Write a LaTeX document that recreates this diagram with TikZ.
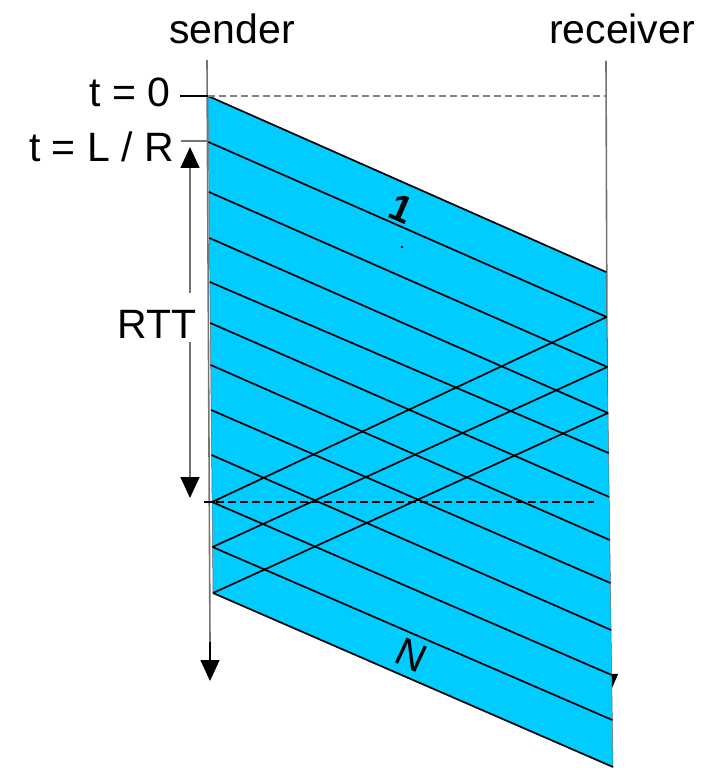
\documentclass[tikz,border=0pt]{standalone}
\usepackage{fontspec}
\setmainfont{Liberation Sans}
\usetikzlibrary{arrows.meta}
\definecolor{pktblue}{RGB}{0,204,255}
\begin{document}
\begin{tikzpicture}[x=1pt,y=-1pt,
  lbl/.style={font=\fontsize{41}{49}\selectfont, inner sep=0pt},
  vline/.style={draw=black!55, line width=1.6pt},
  pline/.style={draw=black, line width=1.7pt},
  band/.style={fill=pktblue, draw=black!60, line width=0.5pt},
  tip/.style={-{Triangle[length=21pt,width=19pt,color=black]}},
]
\useasboundingbox (0,0) rectangle (715,770);

% column labels
\node[lbl, anchor=base] (snd) at (232,44) {sender};
\node[lbl, anchor=base] (rcv) at (622,44) {receiver};

% packet boundary points at sender (L) and receiver (R)
\foreach \i/\yl/\yr in {1/96/272, 2/142/317, 3/192/367, 4/238/413, 5/282/453, 6/323/497,
                        7/365/540, 8/410/583, 9/455/630, 10/502/675, 11/547/720, 12/593/767}{
  \pgfmathsetmacro\xl{208+5*(\yl-96)/497}
  \pgfmathsetmacro\xr{606+7*(\yr-272)/495}
  \coordinate (L\i) at (\xl,\yl);
  \coordinate (R\i) at (\xr,\yr);
}

% time lines
\coordinate (sTop) at (207,60);
\coordinate (sMid) at (210,642);
\coordinate (sBot) at (210,681);
\coordinate (rTop) at (606,61);
\coordinate (rMid) at (608,650);
\coordinate (rBot) at (609,695);
\draw[vline] (sTop) -- (sMid);
\draw[draw=black, line width=1.6pt, tip] (sMid) -- (sBot);
\draw[vline] (rTop) -- (rMid);
\draw[draw=black, line width=1.6pt, tip] (rMid) -- (rBot);

% packets
\foreach \k [evaluate=\k as \n using int(\k+1)] in {1,...,11}{
  \filldraw[band] (L\k) -- (R\k) -- (R\n) -- (L\n) -- cycle;
}
\foreach \k in {1,...,12}{
  \draw[pline] (L\k) -- (R\k);
}

% acks
\draw[pline] (R2) -- (L10);
\draw[pline] (R3) -- (L11);
\draw[pline] (R4) -- (L12);

% dashed reference lines
\coordinate (r0) at (606,96);
\draw[draw=black!50, line width=1.5pt, dash pattern=on 7pt off 4pt] (L1) -- (r0);
\coordinate (d1) at (204,502);
\coordinate (d2) at (594,502);
\draw[draw=black, line width=1.6pt, dash pattern=on 8pt off 4pt] (d1) -- (d2);

% time labels and ticks
\node[lbl, anchor=base east] (t0) at (171,107) {t = 0};
\node[lbl, anchor=base east] (tlr) at (174,162) {t = L / R};
\coordinate (tk0) at (180,96);
\draw[draw=black, line width=1.6pt] (tk0) -- (L1);
\coordinate (tk1a) at (181,141);
\coordinate (tk1b) at (208,141);
\draw[vline] (tk1a) -- (tk1b);

% RTT
\node[lbl, anchor=base] (rtt) at (157,338) {RTT};
\coordinate (rttA) at (190,293);
\coordinate (rttTop) at (190,147);
\coordinate (rttB) at (190,342);
\coordinate (rttBot) at (190,498);
\draw[vline, tip] (rttA) -- (rttTop);
\draw[vline, tip] (rttB) -- (rttBot);

% packet numbers
\node[lbl, font=\fontsize{38}{44}\selectfont\bfseries, rotate=-23.6] (one) at (401,209) {1};
\fill (402,247) circle (1.3pt);
\node[lbl, font=\fontsize{40}{46}\selectfont, rotate=-25] (nn) at (411,655) {N};
\end{tikzpicture}
\end{document}
